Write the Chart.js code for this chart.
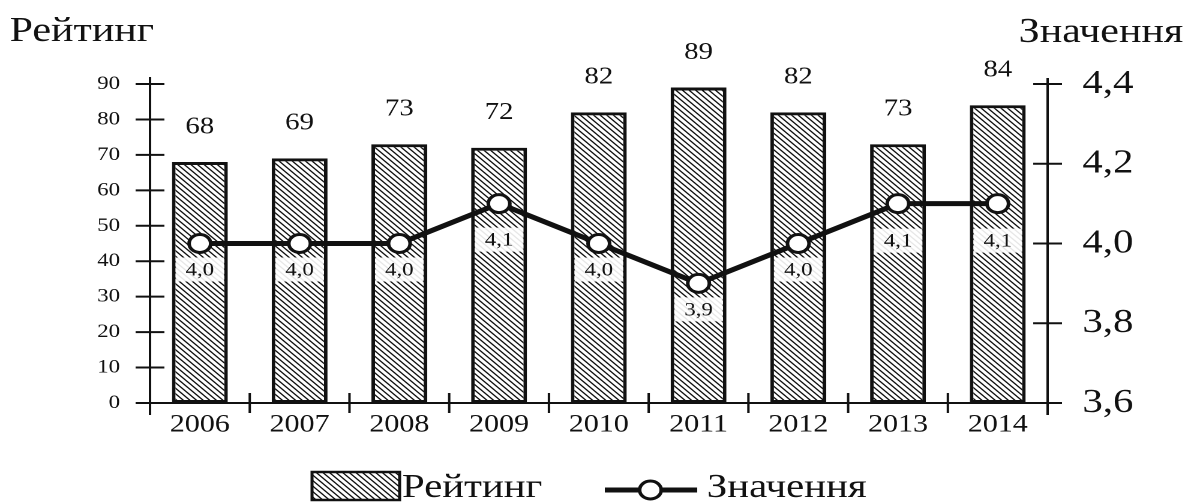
<!DOCTYPE html>
<html>
<head>
<meta charset="utf-8">
<script src="https://cdn.jsdelivr.net/npm/chart.js@4/dist/chart.umd.min.js"></script>
<style>
  html, body { margin: 0; padding: 0; background: #fff; overflow: hidden; }
  /* o original está esticado na horizontal (círculos viram elipses) */
  #wrap { width: 988px; height: 502px; transform: scaleX(1.2); transform-origin: 0 0; }
</style>
</head>
<body>
<div id="wrap"><canvas id="grafico"></canvas></div>
<script>
const anos = ['2006', '2007', '2008', '2009', '2010', '2011', '2012', '2013', '2014'];
const rating = [68, 69, 73, 72, 82, 89, 82, 73, 84];
const valores = [4.0, 4.0, 4.0, 4.1, 4.0, 3.9, 4.0, 4.1, 4.1];
const ticksEsquerda = [0, 10, 20, 30, 40, 50, 60, 70, 80, 90];
const ticksDireita = [3.6, 3.8, 4.0, 4.2, 4.4];

const SERIF = '"Liberation Serif", "Times New Roman", serif';
const PRETO = '#111';
const DPR = 2;
// deslocamento vertical das etiquetas dos pontos (só estilo)
const desvioEtiqueta = [26, 26, 26, 36, 26, 26, 26, 37, 37];

function virgula(v) {
    return v.toFixed(1).replace('.', ',');
}

// Hachura diagonal "\\\" para as barras
function criarHachura(ctxBase) {
    const s = 5.5 * DPR;
    const c = document.createElement('canvas');
    c.width = s; c.height = s;
    const g = c.getContext('2d');
    g.fillStyle = '#fff';
    g.fillRect(0, 0, s, s);
    g.strokeStyle = '#111';
    g.lineWidth = 1.2 * DPR;
    g.beginPath();
    g.moveTo(-2, -2); g.lineTo(s + 2, s + 2);
    g.moveTo(s - 3, -3); g.lineTo(s + 3, 3);
    g.moveTo(-3, s - 3); g.lineTo(3, s + 3);
    g.stroke();
    const p = ctxBase.createPattern(c, 'repeat');
    p.setTransform(new DOMMatrix().scale(1 / DPR));
    return p;
}

const canvas = document.getElementById('grafico');
const hachura = criarHachura(canvas.getContext('2d'));

const desenhoExtra = {
    id: 'desenhoExtra',
    afterDatasetsDraw(chart) {
        const ctx = chart.ctx;
        ctx.save();
        // Valores acima das barras
        ctx.fillStyle = PRETO;
        ctx.font = '24px ' + SERIF;
        ctx.textAlign = 'center';
        ctx.textBaseline = 'middle';
        chart.getDatasetMeta(0).data.forEach((bar, i) => {
            ctx.fillText(String(rating[i]), bar.x, bar.y - 35);
        });
        // Etiquetas dos pontos com fundo branco
        chart.getDatasetMeta(1).data.forEach((pt, i) => {
            const cy = pt.y + desvioEtiqueta[i];
            ctx.fillStyle = 'rgba(255,255,255,0.9)';
            ctx.fillRect(pt.x - 20, cy - 12, 40, 24);
            ctx.fillStyle = PRETO;
            ctx.font = '19px ' + SERIF;
            ctx.fillText(virgula(valores[i]), pt.x, cy + 1);
        });
        ctx.restore();
    },
    afterDraw(chart) {
        const ctx = chart.ctx;
        const { left, right, bottom } = chart.chartArea;
        const sx = chart.scales.x, sy = chart.scales.y, sy1 = chart.scales.y1;
        ctx.save();
        ctx.strokeStyle = PRETO;
        ctx.lineWidth = 2;
        ctx.beginPath();
        // eixos
        ctx.moveTo(left, 77); ctx.lineTo(left, 415);
        ctx.moveTo(right, 78); ctx.lineTo(right, 415);
        ctx.moveTo(left, bottom); ctx.lineTo(right, bottom);
        // marcas que cruzam os eixos verticais
        ticksEsquerda.forEach(v => {
            const y = sy.getPixelForValue(v);
            ctx.moveTo(left - 12, y); ctx.lineTo(left + 12, y);
        });
        ticksDireita.forEach(v => {
            const y = sy1.getPixelForValue(v);
            ctx.moveTo(right - 12, y); ctx.lineTo(right + 12, y);
        });
        // marcas entre categorias
        for (let i = 1; i < anos.length; i++) {
            const x = (sx.getPixelForValue(i - 1) + sx.getPixelForValue(i)) / 2;
            ctx.moveTo(x, bottom - 10); ctx.lineTo(x, bottom + 10);
        }
        ctx.stroke();

        // títulos dos eixos
        ctx.fillStyle = PRETO;
        ctx.font = '35px ' + SERIF;
        ctx.textBaseline = 'alphabetic';
        ctx.textAlign = 'left';
        ctx.fillText('Рейтинг', 8, 41);
        ctx.textAlign = 'right';
        ctx.fillText('Значення', 986, 42);

        // legenda
        ctx.fillStyle = hachura;
        ctx.fillRect(260, 472, 73, 28);
        ctx.lineWidth = 2.5;
        ctx.strokeRect(260, 472, 73, 28);
        ctx.fillStyle = PRETO;
        ctx.font = '34px ' + SERIF;
        ctx.textAlign = 'left';
        ctx.fillText('Рейтинг', 335, 497);

        ctx.lineWidth = 5;
        ctx.beginPath();
        ctx.moveTo(504, 490); ctx.lineTo(581, 490);
        ctx.stroke();
        ctx.beginPath();
        ctx.arc(542, 490, 9, 0, Math.PI * 2);
        ctx.fillStyle = '#fff';
        ctx.fill();
        ctx.lineWidth = 3;
        ctx.stroke();
        ctx.fillStyle = PRETO;
        ctx.fillText('Значення', 589, 497);
        ctx.restore();
    }
};

new Chart(canvas, {
    type: 'bar',
    data: {
        labels: anos,
        datasets: [{
            label: 'Рейтинг',
            data: rating,
            yAxisID: 'y',
            backgroundColor: hachura,
            borderColor: PRETO,
            borderWidth: 3,
            borderSkipped: false,
            barPercentage: 0.56,
            categoryPercentage: 1,
            order: 1
        }, {
            type: 'line',
            label: 'Значення',
            data: valores,
            yAxisID: 'y1',
            borderColor: PRETO,
            borderWidth: 5,
            tension: 0,
            pointRadius: 9,
            pointBorderWidth: 3,
            pointBackgroundColor: '#fff',
            pointBorderColor: PRETO,
            order: 0
        }]
    },
    options: {
        responsive: true,
        maintainAspectRatio: false,
        animation: false,
        devicePixelRatio: DPR,
        layout: { padding: { top: 84, left: 0, right: 0, bottom: 0 } },
        plugins: { legend: { display: false }, tooltip: { enabled: false } },
        scales: {
            x: {
                offset: true,
                grid: { display: false, drawTicks: false },
                border: { display: false },
                ticks: { color: PRETO, padding: 7, font: { family: SERIF, size: 25 } },
                afterFit: s => { s.height = 99; }
            },
            y: {
                position: 'left',
                min: 0, max: 90,
                grid: { display: false, drawTicks: false },
                border: { display: false },
                afterBuildTicks: s => { s.ticks = ticksEsquerda.map(v => ({ value: v })); },
                ticks: { color: PRETO, padding: 25, font: { family: SERIF, size: 19 } },
                afterFit: s => { s.width = 125; }
            },
            y1: {
                position: 'right',
                min: 3.6, max: 4.4,
                grid: { display: false, drawTicks: false },
                border: { display: false },
                afterBuildTicks: s => { s.ticks = ticksDireita.map(v => ({ value: v })); },
                ticks: {
                    color: PRETO, padding: 29, font: { family: SERIF, size: 34 },
                    callback: v => virgula(v)
                },
                afterFit: s => { s.width = 115; }
            }
        }
    },
    plugins: [desenhoExtra]
});
</script>
</body>
</html>
